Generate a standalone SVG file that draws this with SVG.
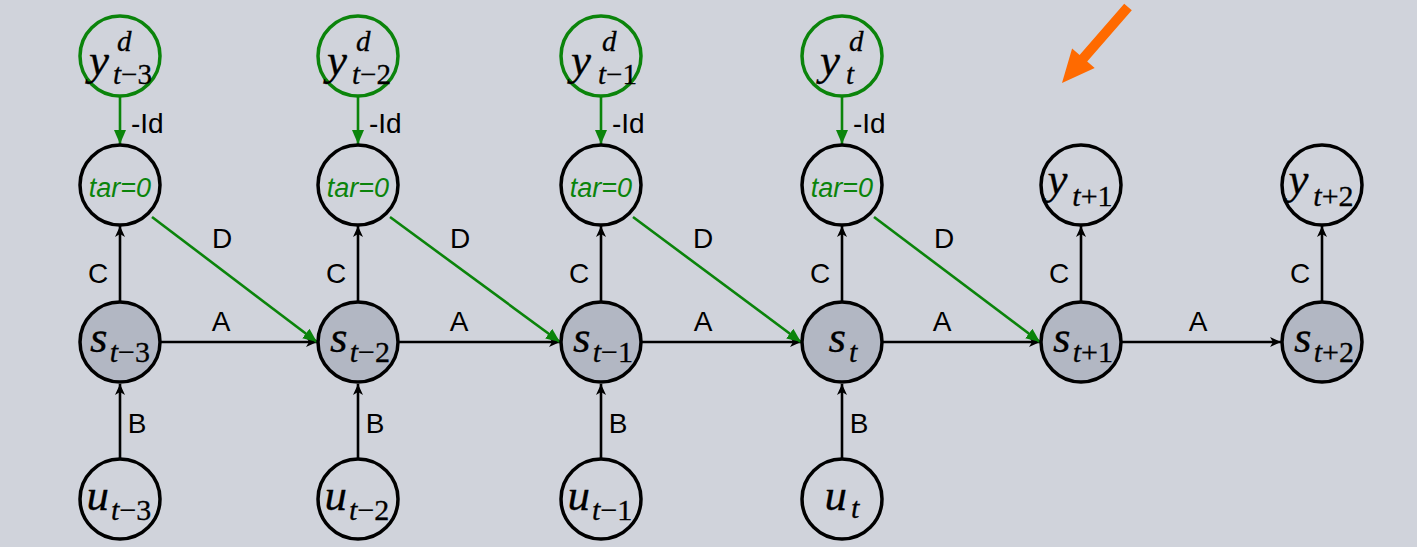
<svg xmlns="http://www.w3.org/2000/svg" width="1417" height="547" viewBox="0 0 1417 547">
<style>
.bg{fill:#d0d3db}
.nd{fill:none;stroke:#000;stroke-width:3.5}
.st{fill:#b2b7c3;stroke:#000;stroke-width:3.5}
.gd{fill:none;stroke:#0b840b;stroke-width:3.5}
.ln{stroke:#000;stroke-width:2.6;fill:none}
.gl{stroke:#0b840b;stroke-width:2.6;fill:none}
.m{font-family:"Liberation Serif","Times New Roman",serif;font-style:italic;font-size:45px;fill:#000;stroke:#000;stroke-width:0.3}
.sb{font-size:30px}
.sd{font-size:29px}
.up{font-style:normal}
.lb{font-family:"Liberation Sans",Arial,sans-serif;font-size:28px;fill:#000}
.tar{font-family:"Liberation Sans",Arial,sans-serif;font-style:italic;font-size:27px;fill:#0b840b}
</style>
<defs>
<marker id="ab" markerUnits="userSpaceOnUse" markerWidth="14" markerHeight="12" refX="11" refY="5" orient="auto" viewBox="0 0 14 10">
<path d="M0,0 L11,5 L0,10 L3,5 z" fill="#000"/>
</marker>
<marker id="ag" markerUnits="userSpaceOnUse" markerWidth="16" markerHeight="14" refX="14" refY="6" orient="auto" viewBox="0 0 16 12">
<path d="M0,0 L14,6 L0,12 z" fill="#0b840b"/>
</marker>
</defs>
<rect class="bg" x="0" y="0" width="1417" height="547"/>

<g id="connectors">
<line class="gl" x1="120" y1="97" x2="120" y2="144" marker-end="url(#ag)"/>
<line class="gl" x1="358" y1="97" x2="358" y2="144" marker-end="url(#ag)"/>
<line class="gl" x1="601" y1="97" x2="601" y2="144" marker-end="url(#ag)"/>
<line class="gl" x1="842" y1="97" x2="842" y2="144" marker-end="url(#ag)"/>
<line class="ln" x1="120" y1="301" x2="120" y2="226" marker-end="url(#ab)"/>
<line class="ln" x1="358" y1="301" x2="358" y2="226" marker-end="url(#ab)"/>
<line class="ln" x1="601" y1="301" x2="601" y2="226" marker-end="url(#ab)"/>
<line class="ln" x1="842" y1="301" x2="842" y2="226" marker-end="url(#ab)"/>
<line class="ln" x1="1081" y1="301" x2="1081" y2="226" marker-end="url(#ab)"/>
<line class="ln" x1="1322" y1="301" x2="1322" y2="226" marker-end="url(#ab)"/>
<line class="ln" x1="120" y1="458" x2="120" y2="384" marker-end="url(#ab)"/>
<line class="ln" x1="358" y1="458" x2="358" y2="384" marker-end="url(#ab)"/>
<line class="ln" x1="601" y1="458" x2="601" y2="384" marker-end="url(#ab)"/>
<line class="ln" x1="842" y1="458" x2="842" y2="384" marker-end="url(#ab)"/>
<line class="ln" x1="161" y1="342" x2="317" y2="342" marker-end="url(#ab)"/>
<line class="ln" x1="399" y1="342" x2="560" y2="342" marker-end="url(#ab)"/>
<line class="ln" x1="642" y1="342" x2="801" y2="342" marker-end="url(#ab)"/>
<line class="ln" x1="883" y1="342" x2="1040" y2="342" marker-end="url(#ab)"/>
<line class="ln" x1="1122" y1="342" x2="1281" y2="342" marker-end="url(#ab)"/>
<line class="gl" x1="152" y1="217" x2="317" y2="342" marker-end="url(#ag)"/>
<line class="gl" x1="390" y1="217" x2="560" y2="342" marker-end="url(#ag)"/>
<line class="gl" x1="633" y1="217" x2="801" y2="342" marker-end="url(#ag)"/>
<line class="gl" x1="874" y1="217" x2="1040" y2="342" marker-end="url(#ag)"/>
<text class="lb" x="131" y="133">-Id</text>
<text class="lb" x="369" y="133">-Id</text>
<text class="lb" x="612" y="133">-Id</text>
<text class="lb" x="853" y="133">-Id</text>
<text class="lb" x="98" y="283" text-anchor="middle">C</text>
<text class="lb" x="336" y="283" text-anchor="middle">C</text>
<text class="lb" x="579" y="283" text-anchor="middle">C</text>
<text class="lb" x="820" y="283" text-anchor="middle">C</text>
<text class="lb" x="1059" y="283" text-anchor="middle">C</text>
<text class="lb" x="1300" y="283" text-anchor="middle">C</text>
<text class="lb" x="137" y="433" text-anchor="middle">B</text>
<text class="lb" x="375" y="433" text-anchor="middle">B</text>
<text class="lb" x="618" y="433" text-anchor="middle">B</text>
<text class="lb" x="859" y="433" text-anchor="middle">B</text>
<text class="lb" x="221" y="331" text-anchor="middle">A</text>
<text class="lb" x="459" y="331" text-anchor="middle">A</text>
<text class="lb" x="703" y="331" text-anchor="middle">A</text>
<text class="lb" x="942" y="331" text-anchor="middle">A</text>
<text class="lb" x="1198" y="331" text-anchor="middle">A</text>
<text class="lb" x="222" y="248" text-anchor="middle">D</text>
<text class="lb" x="460" y="248" text-anchor="middle">D</text>
<text class="lb" x="703" y="248" text-anchor="middle">D</text>
<text class="lb" x="944" y="248" text-anchor="middle">D</text>
</g>

<g id="yd1"><circle class="gd" cx="120" cy="56" r="40"/>
<text class="m" x="89" y="75">y</text><text class="m sd" x="117" y="51">d</text><text class="m sd" x="113" y="84">t<tspan class="up">−3</tspan></text></g>
<g id="yd2"><circle class="gd" cx="358" cy="56" r="40"/>
<text class="m" x="327" y="75">y</text><text class="m sd" x="356" y="51">d</text><text class="m sd" x="352" y="84">t<tspan class="up">−2</tspan></text></g>
<g id="yd3"><circle class="gd" cx="601" cy="56" r="40"/>
<text class="m" x="571" y="75">y</text><text class="m sd" x="602" y="51">d</text><text class="m sd" x="598" y="84">t<tspan class="up">−1</tspan></text></g>
<g id="yd4"><circle class="gd" cx="842" cy="56" r="40"/>
<text class="m" x="820" y="75">y</text><text class="m sd" x="849" y="51">d</text><text class="m sd" x="846" y="84">t</text></g>

<g id="tar1"><circle class="nd" cx="120" cy="185" r="40"/><text class="tar" x="120" y="197" text-anchor="middle">tar=0</text></g>
<g id="tar2"><circle class="nd" cx="358" cy="185" r="40"/><text class="tar" x="358" y="197" text-anchor="middle">tar=0</text></g>
<g id="tar3"><circle class="nd" cx="601" cy="185" r="40"/><text class="tar" x="601" y="197" text-anchor="middle">tar=0</text></g>
<g id="tar4"><circle class="nd" cx="842" cy="185" r="40"/><text class="tar" x="842" y="197" text-anchor="middle">tar=0</text></g>
<g id="y5"><circle class="nd" cx="1081" cy="185" r="40"/><text class="m" x="1080" y="194" text-anchor="middle">y<tspan class="sb" dx="5" dy="12">t</tspan><tspan class="sb up">+1</tspan></text></g>
<g id="y6"><circle class="nd" cx="1322" cy="185" r="40"/><text class="m" x="1321" y="194" text-anchor="middle">y<tspan class="sb" dx="5" dy="12">t</tspan><tspan class="sb up">+2</tspan></text></g>

<g id="s1"><circle class="st" cx="120" cy="342" r="40"/><text class="m" x="120" y="352" text-anchor="middle">s<tspan class="sb" dx="2" dy="10">t</tspan><tspan class="sb up">−3</tspan></text></g>
<g id="s2"><circle class="st" cx="358" cy="342" r="40"/><text class="m" x="360" y="352" text-anchor="middle">s<tspan class="sb" dx="2" dy="10">t</tspan><tspan class="sb up">−2</tspan></text></g>
<g id="s3"><circle class="st" cx="601" cy="342" r="40"/><text class="m" x="603" y="352" text-anchor="middle">s<tspan class="sb" dx="2" dy="10">t</tspan><tspan class="sb up">−1</tspan></text></g>
<g id="s4"><circle class="st" cx="842" cy="342" r="40"/><text class="m" x="843" y="352" text-anchor="middle">s<tspan class="sb" dx="3" dy="10">t</tspan></text></g>
<g id="s5"><circle class="st" cx="1081" cy="342" r="40"/><text class="m" x="1083" y="352" text-anchor="middle">s<tspan class="sb" dx="2" dy="10">t</tspan><tspan class="sb up">+1</tspan></text></g>
<g id="s6"><circle class="st" cx="1322" cy="342" r="40"/><text class="m" x="1324" y="352" text-anchor="middle">s<tspan class="sb" dx="2" dy="10">t</tspan><tspan class="sb up">+2</tspan></text></g>

<g id="u1"><circle class="nd" cx="120" cy="499" r="40"/><text class="m" x="119" y="510" text-anchor="middle">u<tspan class="sb" dx="2" dy="10">t</tspan><tspan class="sb up">−3</tspan></text></g>
<g id="u2"><circle class="nd" cx="358" cy="499" r="40"/><text class="m" x="357" y="510" text-anchor="middle">u<tspan class="sb" dx="2" dy="10">t</tspan><tspan class="sb up">−2</tspan></text></g>
<g id="u3"><circle class="nd" cx="601" cy="499" r="40"/><text class="m" x="600" y="510" text-anchor="middle">u<tspan class="sb" dx="2" dy="10">t</tspan><tspan class="sb up">−1</tspan></text></g>
<g id="u4"><circle class="nd" cx="842" cy="499" r="40"/><text class="m" x="842" y="510" text-anchor="middle">u<tspan class="sb" dx="4" dy="8">t</tspan></text></g>

<g id="orange-arrow">
<polygon fill="#ff6a00" points="1124.2,3.7 1079.6,55.0 1072.1,48.5 1062,83 1094.7,68.1 1087.2,61.6 1131.8,10.3"/>
</g>
</svg>
